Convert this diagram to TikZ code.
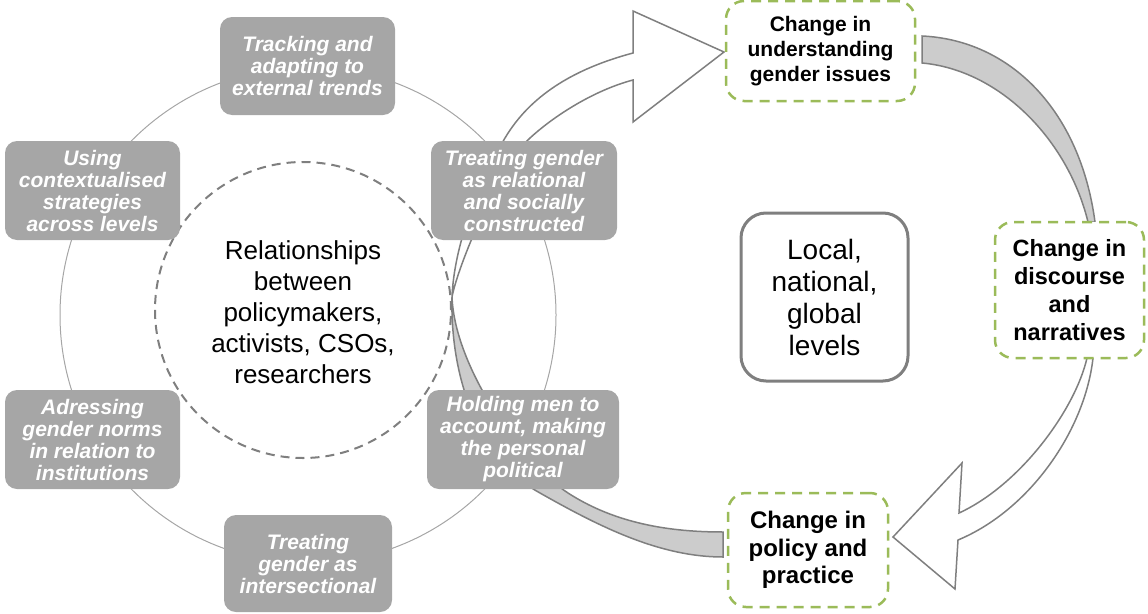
\documentclass[tikz,border=0pt]{standalone}
\usepackage{fontspec}
\setmainfont{Liberation Sans}
\definecolor{boxgrey}{HTML}{A6A6A6}
\definecolor{linegrey}{HTML}{7F7F7F}
\definecolor{bandgrey}{HTML}{CCCCCC}
\definecolor{greenline}{HTML}{9BBB59}
\definecolor{circgrey}{HTML}{A6A6A6}
\begin{document}
\begin{tikzpicture}[x=1pt,y=-1pt,
  gbox/.style={rectangle, rounded corners=12pt, fill=boxgrey, text=white,
    font=\fontsize{21}{22}\selectfont\bfseries\itshape, align=center, inner sep=0pt},
  chbox/.style={rectangle, rounded corners=18pt, draw=greenline, line width=2.5pt,
    dash pattern=on 10pt off 7pt, fill=white, align=center, inner sep=0pt},
  arrowline/.style={draw=linegrey, line width=1.5pt, line join=miter},
  band/.style={arrowline, fill=bandgrey},
  whitearrow/.style={arrowline, fill=white},
  levelbox/.style={rectangle, rounded corners=25pt, draw=linegrey, line width=3pt,
    fill=white, align=center, inner sep=0pt, font=\fontsize{28}{32}\selectfont},
  reltext/.style={align=center, inner sep=0pt, font=\fontsize{26}{31}\selectfont}
]
\useasboundingbox (0,0) rectangle (1148,613);

% circles
\draw[circgrey, line width=1pt] (308,315) circle[radius=248pt];
\draw[linegrey, line width=2pt, dash pattern=on 9pt off 6pt] (303,310) circle[radius=148pt];

% grey band from the circle to policy and practice
\draw[band] (452,297) .. controls (450,380) and (480,460) .. (540,493)
  .. controls (600,527) and (660,557) .. (723,557) -- (723,532)
  .. controls (660,532) and (610,520) .. (568,493)
  .. controls (525,465) and (455,370) .. (452,297) -- cycle;

% white arrow from the circle to understanding
\draw[whitearrow] (452,297) .. controls (454,247) and (477,185) .. (505,138)
  .. controls (530,96) and (573,69) .. (633,53) -- (633,11) -- (724,52)
  -- (633,122) -- (633,80) .. controls (595,90) and (555,115) .. (530,138)
  .. controls (500,165) and (458,265) .. (452,297) -- cycle;

% grey band from understanding to discourse
\draw[band] (922,36) .. controls (1010,40) and (1080,110) .. (1095,222)
  -- (1088,222) .. controls (1068,140) and (1000,70) .. (922,63) -- cycle;

% white arrow from discourse to policy
\draw[whitearrow] (1093,358) .. controls (1085,430) and (1030,510) .. (958,540)
  -- (955,589) -- (893,537) -- (962,463) -- (959,513)
  .. controls (1020,485) and (1075,410) .. (1087,358) -- cycle;

% grey strategy boxes
\node[gbox, minimum width=175pt, minimum height=98pt] (t1) at (307.5,66)
  {Tracking and\\adapting to\\external trends};
\node[gbox, minimum width=175pt, minimum height=99pt] (t2) at (92.5,190.5)
  {Using\\contextualised\\strategies\\across levels};
\node[gbox, minimum width=186pt, minimum height=99pt] (t3) at (524,190.5)
  {Treating gender\\as relational\\and socially\\constructed};
\node[gbox, minimum width=192pt, minimum height=99pt] (t4) at (523,439.5)
  {Holding men to\\account, making\\the personal\\political};
\node[gbox, minimum width=175pt, minimum height=99pt] (t5) at (92.5,439.5)
  {Adressing\\gender norms\\in relation to\\institutions};
\node[gbox, minimum width=168pt, minimum height=97pt] (t6) at (308,563.5)
  {Treating\\gender as\\intersectional};

% centre text
\node[reltext] (rel) at (303,312)
  {Relationships\\between\\policymakers,\\activists, CSOs,\\researchers};

% levels box
\node[levelbox, minimum width=167pt, minimum height=168pt] (loc) at (824.5,297)
  {Local,\\national,\\global\\levels};

% change boxes
\node[chbox, minimum width=189pt, minimum height=100pt,
  font=\fontsize{21}{25}\selectfont\bfseries] (ca) at (820.5,51)
  {Change in\\understanding\\gender issues};
\node[chbox, minimum width=149pt, minimum height=136pt,
  font=\fontsize{23.5}{28}\selectfont\bfseries] (cb) at (1069.5,290)
  {Change in\\discourse\\and\\narratives};
\node[chbox, minimum width=160pt, minimum height=114pt,
  font=\fontsize{24}{27.5}\selectfont\bfseries] (cc) at (808,550)
  {Change in\\policy and\\practice};
\end{tikzpicture}
\end{document}
